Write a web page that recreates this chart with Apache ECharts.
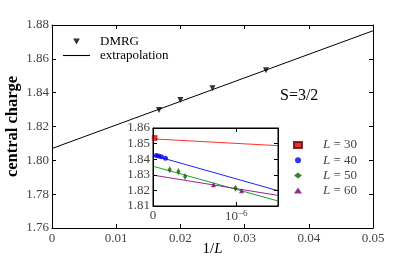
<!DOCTYPE html>
<html><head><meta charset="utf-8">
<script src="https://cdn.jsdelivr.net/npm/echarts@6/dist/echarts.min.js"></script>
<style>html,body{margin:0;padding:0;background:#fff}#c{width:415px;height:260px}</style>
</head><body><div id="c"></div>
<script>
// Main panel data
const invL = [1/60, 1/50, 1/40, 1/30];
const dmrg = [1.8298, 1.8357, 1.8426, 1.8533];
const extrapX = [0, 0.05];
const extrapY = [1.807, 1.8766];
const mainXTicks = [0, 0.01, 0.02, 0.03, 0.04, 0.05];
const mainYTicks = [1.76, 1.78, 1.80, 1.82, 1.84, 1.86, 1.88];
// Inset data (x in units of 1e-6)
const l30x = [0.02], l30y = [1.8536];
const l40x = [0.04, 0.067, 0.10, 0.15], l40y = [1.8423, 1.8421, 1.8416, 1.8406];
const l50x = [0.20, 0.305, 0.385, 0.99], l50y = [1.8332, 1.8321, 1.8289, 1.8213];
const l60x = [0.726, 1.063], l60y = [1.8236, 1.8198];
const fitX = [0, 1.5];
const fit30 = [1.853, 1.8487];
const fit40 = [1.8425, 1.8198];
const fit50 = [1.8355, 1.8132];
const fit60 = [1.8298, 1.8168];
const insetYTicks = [1.81, 1.82, 1.83, 1.84, 1.85, 1.86];

const pts = (xs, ys) => xs.map((x, i) => [x, ys[i]]);
const FONT = 'Liberation Serif';
const tickLbl = {fontFamily: FONT, fontSize: 13, color: '#444'};

const chart = echarts.init(document.getElementById('c'), null, {renderer: 'canvas'});
const axisCommon = {
  axisLine: {show: true, onZero: false, lineStyle: {color: '#000', width: 1}},
  axisTick: {show: true, inside: true, length: 4, lineStyle: {color: '#000'}},
  splitLine: {show: false}
};
const trianglePath = 'path://M0,0 L10,0 L5,9 Z';
const linePath = 'path://M0,0 L100,0 L100,4 L0,4 Z';

chart.setOption({
  animation: false,
  backgroundColor: '#fff',
  title: {text: 'S=3/2', left: 280, top: 88, padding: 0,
    textStyle: {fontFamily: FONT, fontSize: 16, fontWeight: 'normal', color: '#000'}},
  grid: [
    {left: 52, right: 42, top: 25, bottom: 32, outerBoundsMode: 'none', containLabel: false},
    {left: 153, top: 128, width: 125, height: 78, show: true, backgroundColor: '#fff',
      borderWidth: 1, borderColor: '#000', outerBoundsMode: 'none', containLabel: false}
  ],
  legend: [
    {data: [{name: 'DMRG', icon: trianglePath}, {name: 'extrapolation', icon: linePath}], orient: 'vertical', left: 63, top: 35,
      padding: 0, itemGap: 1, itemWidth: 27, itemHeight: 6,
      textStyle: {fontFamily: FONT, fontSize: 13, color: '#000', padding: [0, 0, 0, 5]}},
    {data: ['L = 30', 'L = 40', 'L = 50', 'L = 60'], orient: 'vertical', left: 293, top: 138,
      padding: 0, itemGap: 1.2, itemWidth: 8, itemHeight: 6,
      formatter: n => '{i|L}{n|' + n.slice(1) + '}',
      textStyle: {fontFamily: FONT, fontSize: 13, color: '#000', padding: [0, 0, 0, 16], lineHeight: 14,
        rich: {i: {fontFamily: FONT, fontStyle: 'italic', fontSize: 13, color: '#444'},
               n: {fontFamily: FONT, fontSize: 13, color: '#444'}}}}
  ],
  xAxis: [
    Object.assign({}, axisCommon, {gridIndex: 0, type: 'value', min: 0, max: 0.05, interval: 0.01,
      axisLabel: Object.assign({}, tickLbl, {margin: 4, formatter: v => v === 0 ? '0' : v.toFixed(2)}),
      name: '{n|1/}{i|L}', nameLocation: 'middle', nameGap: 14, nameMoveOverlap: false,
      nameTextStyle: {rich: {n: {fontFamily: FONT, fontSize: 15, color: '#000'},
                             i: {fontFamily: FONT, fontSize: 15, fontStyle: 'italic', color: '#000'}}}}),
    Object.assign({}, axisCommon, {gridIndex: 0, type: 'value', min: 0, max: 0.05, interval: 0.01,
      position: 'top', axisLabel: {show: false}}),
    Object.assign({}, axisCommon, {gridIndex: 1, type: 'value', min: 0, max: 1.5, interval: 1, z: 10,
      axisLabel: Object.assign({}, tickLbl, {margin: 3,
        formatter: v => v === 0 ? '0' : (Math.abs(v - 1) < 1e-9 ? '{a|10}{s|−6}' : ''),
        rich: {a: {fontFamily: FONT, fontSize: 13, color: '#444'},
               s: {fontFamily: FONT, fontSize: 9, color: '#444', padding: [0, 0, 7, 0]}}})}),
    Object.assign({}, axisCommon, {gridIndex: 1, type: 'value', min: 0, max: 1.5, interval: 1, z: 10,
      position: 'top', axisLabel: {show: false}})
  ],
  yAxis: [
    Object.assign({}, axisCommon, {gridIndex: 0, type: 'value', min: 1.76, max: 1.88, interval: 0.02,
      axisLabel: Object.assign({}, tickLbl, {margin: 3, formatter: v => v.toFixed(2)}),
      name: 'central charge', nameLocation: 'middle', nameGap: 31, nameRotate: 90, nameMoveOverlap: false,
      nameTextStyle: {fontFamily: FONT, fontSize: 16.5, fontWeight: 'bold', color: '#000'}}),
    Object.assign({}, axisCommon, {gridIndex: 0, type: 'value', min: 1.76, max: 1.88, interval: 0.02,
      position: 'right', axisLabel: {show: false}}),
    Object.assign({}, axisCommon, {gridIndex: 1, type: 'value', min: 1.81, max: 1.86, interval: 0.01, z: 10,
      axisLabel: Object.assign({}, tickLbl, {margin: 3, formatter: v => v.toFixed(2)})}),
    Object.assign({}, axisCommon, {gridIndex: 1, type: 'value', min: 1.81, max: 1.86, interval: 0.01, z: 10,
      position: 'right', axisLabel: {show: false}})
  ],
  series: [
    {name: 'extrapolation', type: 'line', xAxisIndex: 0, yAxisIndex: 0, symbol: 'none',
      data: pts(extrapX, extrapY), lineStyle: {color: '#000', width: 1}, itemStyle: {color: '#000'}},
    {name: 'DMRG', type: 'scatter', xAxisIndex: 0, yAxisIndex: 0, symbol: trianglePath, symbolSize: [6, 6],
      data: pts(invL, dmrg), itemStyle: {color: '#000'}},
    {name: 'fit30', type: 'line', xAxisIndex: 2, yAxisIndex: 2, symbol: 'none', z: 6,
      data: pts(fitX, fit30), lineStyle: {color: '#ff3030', width: 1}},
    {name: 'fit40', type: 'line', xAxisIndex: 2, yAxisIndex: 2, symbol: 'none', z: 6,
      data: pts(fitX, fit40), lineStyle: {color: '#2020ff', width: 1}},
    {name: 'fit50', type: 'line', xAxisIndex: 2, yAxisIndex: 2, symbol: 'none', z: 6,
      data: pts(fitX, fit50), lineStyle: {color: '#20a020', width: 1}},
    {name: 'fit60', type: 'line', xAxisIndex: 2, yAxisIndex: 2, symbol: 'none', z: 6,
      data: pts(fitX, fit60), lineStyle: {color: '#a020a0', width: 1}},
    {name: 'L = 30', type: 'scatter', xAxisIndex: 2, yAxisIndex: 2, symbol: 'rect', symbolSize: 5, z: 7,
      data: pts(l30x, l30y), itemStyle: {color: '#e00000', borderColor: '#600', borderWidth: 0.5}},
    {name: 'L = 40', type: 'scatter', xAxisIndex: 2, yAxisIndex: 2, symbol: 'circle', symbolSize: 5, z: 7,
      data: pts(l40x, l40y), itemStyle: {color: '#0000ee'}},
    {name: 'L = 50', type: 'scatter', xAxisIndex: 2, yAxisIndex: 2, symbol: 'diamond', symbolSize: [4, 7], z: 7,
      data: pts(l50x, l50y), itemStyle: {color: '#006400'}},
    {name: 'L = 60', type: 'scatter', xAxisIndex: 2, yAxisIndex: 2, symbol: 'triangle', symbolSize: 5, z: 7,
      data: pts(l60x, l60y), itemStyle: {color: '#700070'}}
  ]
});
</script></body></html>
